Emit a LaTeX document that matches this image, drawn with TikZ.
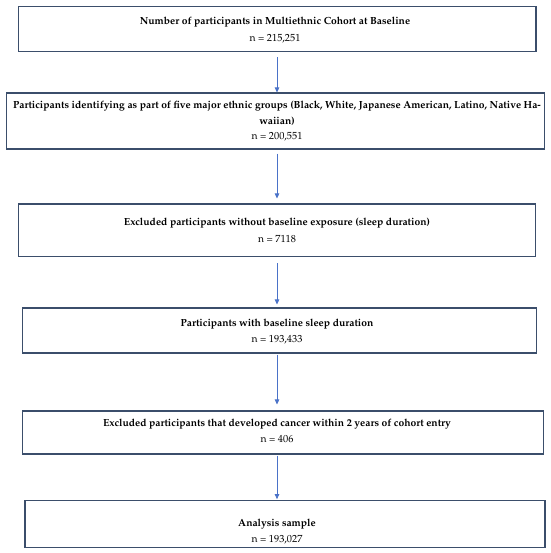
\documentclass[tikz,border=0pt]{standalone}
\usepackage[T1]{fontenc}
\usepackage{mathpazo}
\usetikzlibrary{arrows.meta}
\definecolor{boxc}{HTML}{3B4E6B}
\definecolor{arrc}{HTML}{4A72C8}
\begin{document}
\begin{tikzpicture}[x=1pt,y=-1pt,
  box/.style={draw=boxc,line width=1.1pt,inner sep=0pt},
  txt/.style={inner sep=0pt,anchor=base,font=\fontsize{10.3}{12}\selectfont\bfseries},
  num/.style={inner sep=0pt,anchor=base,font=\fontsize{10.3}{12}\selectfont},
  conn/.style={draw=arrc,line width=0.7pt,-{Triangle[length=5pt,width=4.5pt]}}]
\useasboundingbox (0,0) rectangle (550,553);
\coordinate (ax) at (277,0);
% boxes
\node[box,minimum width=517.7pt,minimum height=45pt] (b1) at (277.15,29.2) {};
\node[box,minimum width=537.6pt,minimum height=56pt] (b2) at (275.5,121) {};
\node[box,minimum width=517.4pt,minimum height=52.7pt] (b3) at (277,230.35) {};
\node[box,minimum width=514pt,minimum height=45pt] (b4) at (279.7,330.5) {};
\node[box,minimum width=520.6pt,minimum height=43pt] (b5) at (283,432.5) {};
\node[box,minimum width=520pt,minimum height=47pt] (b6) at (285,524.2) {};
% texts
\node[txt] (t1a) at (275,25) {Number of participants in Multiethnic Cohort at Baseline};
\node[num] (t1b) at (275,41.5) {n = 215,251};
\node[txt] (t2a) at (277,109) {Participants identifying as part of five major ethnic groups (Black, White, Japanese American, Latino, Native Ha-};
\node[txt] (t2b) at (277,124.5) {waiian)};
\node[num] (t2c) at (277,139.5) {n = 200,551};
\node[txt] (t3a) at (277,225.5) {Excluded participants without baseline exposure (sleep duration)};
\node[num] (t3b) at (277,242.5) {n = 7118};
\node[txt] (t4a) at (277,326) {Participants with baseline sleep duration};
\node[num] (t4b) at (277,342.5) {n = 193,433};
\node[txt] (t5a) at (277,426.5) {Excluded participants that developed cancer within 2 years of cohort entry};
\node[num] (t5b) at (277,442.5) {n = 406};
\node[txt] (t6a) at (277,526) {Analysis sample};
\node[num] (t6b) at (277,542.5) {n = 193,027};
% connectors
\draw[conn] ([yshift=-5pt]b1.south -| ax) -- (b2.north -| ax);
\draw[conn] ([yshift=-4pt]b2.south -| ax) -- ([yshift=5pt]b3.north -| ax);
\draw[conn] ([yshift=-6pt]b3.south -| ax) -- ([yshift=3pt]b4.north -| ax);
\draw[conn] ([yshift=-1pt]b4.south -| ax) -- ([yshift=6pt]b5.north -| ax);
\draw[conn] ([yshift=-1pt]b5.south -| ax) -- ([yshift=1pt]b6.north -| ax);
\end{tikzpicture}
\end{document}
